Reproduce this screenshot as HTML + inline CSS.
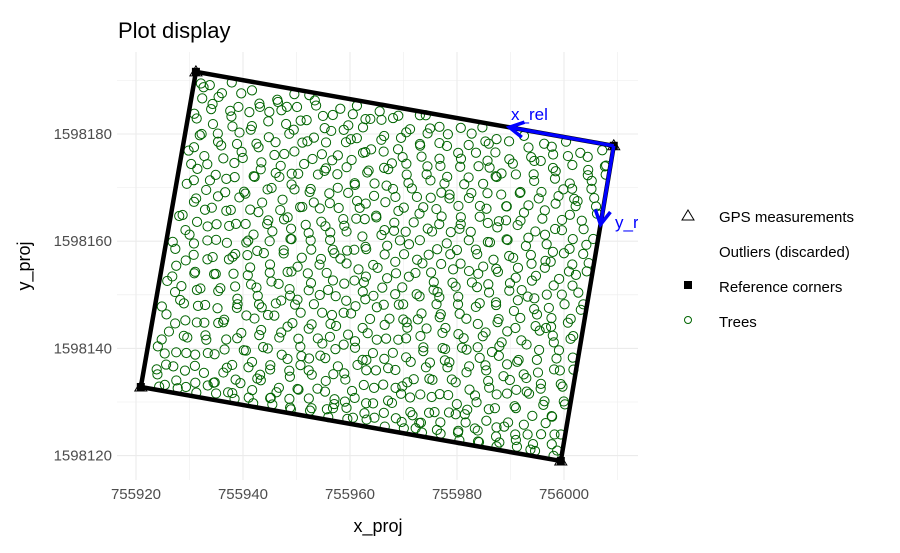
<!DOCTYPE html>
<html><head><meta charset="utf-8"><style>
html,body{margin:0;padding:0;background:#fff;}
svg{display:block;font-family:"Liberation Sans",Arial,sans-serif;}
</style></head><body>
<svg id="chart" width="900" height="553">
<defs><clipPath id="panelClip"><rect x="117" y="52" width="521" height="428"/></clipPath></defs>
<g id="grid"></g>
<g id="panel" clip-path="url(#panelClip)"></g>
<g id="axes"></g>
<text x="118" y="38" font-size="22" fill="#000">Plot display</text>
<text x="378" y="532" font-size="18" text-anchor="middle" fill="#000">x_proj</text>
<text transform="translate(30,266) rotate(-90)" font-size="18" text-anchor="middle" fill="#000">y_proj</text>
<g>
 <g>
  <polygon points="688,210 694,220 682,220" fill="none" stroke="#000" stroke-width="1"/>
  <text x="719" y="222" font-size="15">GPS measurements</text></g>
 <g>
  <text x="719" y="257" font-size="15">Outliers (discarded)</text></g>
 <g>
  <rect x="684" y="281" width="8" height="8" fill="#000"/>
  <text x="719" y="292" font-size="15">Reference corners</text></g>
 <g>
  <circle cx="688" cy="320" r="3.5" fill="none" stroke="#006400" stroke-width="1"/>
  <text x="719" y="327" font-size="15">Trees</text></g>
</g>
</svg>
<script>
// Data
const xTicks = [755920, 755940, 755960, 755980, 756000];
const yTicks = [1598120, 1598140, 1598160, 1598180];
const cornerX = [755931.2, 756009.3, 755999.4, 755920.9];
const cornerY = [1598191.6, 1598177.8, 1598119.0, 1598132.8];
// Trees in relative plot frame (metres along x_rel, y_rel from corner 2)
const treeU = [
2,6,9,13,17,22,25,29,33,37,41,44,49,52,57,61,64,69,73,77,
1,4,11,15,19,24,27,31,35,39,43,47,50,55,59,62,67,71,75,78,
3,7,10,14,20,23,28,32,36,40,45,48,53,56,60,65,68,72,76,79,
2,5,8,12,16,21,26,30,34,38,42,46,51,54,58,63,66,70,74,77,
1,6,9,14,18,22,25,29,33,37,41,45,49,53,57,61,65,69,73,78,
3,7,11,15,19,23,27,31,35,39,43,47,50,55,59,62,66,70,75,78,
2,5,10,13,17,21,26,30,34,38,42,46,51,54,58,63,67,71,74,77,
1,4,8,12,16,20,24,28,32,36,40,44,48,52,56,60,64,68,72,76,
3,6,9,14,18,22,27,31,35,39,43,47,50,54,59,62,66,70,74,78,
2,5,11,15,19,23,26,30,33,37,41,45,49,53,57,61,65,69,73,77,
1,7,10,13,17,21,25,29,34,38,42,46,51,55,58,63,67,71,75,79,
3,6,9,12,16,20,24,28,32,36,40,44,48,52,56,60,64,68,72,76,
2,5,8,14,18,22,27,31,35,39,43,47,50,54,58,62,66,70,74,78,
1,4,10,15,19,23,26,30,33,37,41,45,49,53,57,61,65,69,73,77,
3,7,11,13,17,21,25,29,34,38,42,46,51,55,59,63,67,71,75,79,
2,6,9,12,16,20,24,28,32,36,40,44,48,52,56,60,64,68,72,76,
1,5,8,14,18,22,27,31,35,39,43,47,50,54,58,62,66,70,74,78,
3,4,10,15,19,23,26,30,33,37,41,45,49,53,57,61,65,69,73,77,
2,7,11,13,17,21,25,29,34,38,42,46,51,55,59,63,67,71,75,78,
1,6,9,12,16,20,24,28,32,36,40,44,48,52,56,60,64,68,72,76,
4.5,8.2,11.5,15.8,19.6,23.3,26.8,31.2,34.7,38.4,41.9,46.1,49.5,53.2,56.6,60.1,63.8,67.2,70.9,74.5,78.1,0.8,35.9,58.2,
0.6,3.9,7.1,10.6,14.3,18.2,21.8,25.4,28.7,32.5,36.1,39.8,43.4,47.2,50.7,54.3,57.9,61.6,65.1,68.8,72.4,75.9,78.7,44.6,
2.8,6.4,9.9,13.7,17.3,20.8,24.5,27.9,31.6,35.4,38.9,42.6,46.4,49.9,53.6,57.1,60.7,64.4,67.9,71.5,75.2,78.4,13.1,62.9,
1.4,5.2,8.7,12.3,15.9,19.4,23.1,26.6,30.3,33.9,37.6,41.2,44.8,48.3,51.9,55.6,59.2,62.8,66.5,70.1,73.7,77.3,22.4,49.1,
3.6,7.3,10.8,14.6,18.1,21.7,25.3,28.9,32.4,36.2,39.7,43.3,46.9,50.5,54.1,57.8,61.3,64.9,68.6,72.2,75.8,78.9,5.7,40.7,
0.9,4.7,8.3,11.9,15.4,19.1,22.7,26.2,29.8,33.5,37.1,40.7,44.3,47.9,51.4,55.1,58.7,62.3,65.8,69.5,73.1,76.7,30.6,52.8,
2.3,5.9,9.4,13.2,16.8,20.4,23.9,27.6,31.1,34.8,38.4,41.9,45.6,49.2,52.7,56.4,59.9,63.6,67.3,70.8,74.4,78.2,17.7,61.2,
1.1,4.4,8.1,11.6,15.2,18.8,22.4,25.9,29.6,33.1,36.8,40.4,43.9,47.6,51.1,54.8,58.4,61.9,65.6,69.2,72.8,76.3,26.1,45.3,
3.3,6.8,10.4,14.1,17.6,21.2,24.8,28.4,31.9,35.6,39.2,42.8,46.3,49.8,53.4,57.2,60.8,64.2,67.8,71.4,75.1,78.6,9.1,38.2,
0.7,4.2,7.8,11.3,14.9,18.6,22.1,25.7,29.2,32.9,36.5,40.1,43.6,47.3,50.9,54.5,58.1,61.7,65.3,68.9,72.6,76.1,20.5,57.4,
2.6,6.2,9.7,13.4,16.9,20.6,24.2,27.7,31.4,34.9,38.6,42.2,45.8,49.4,52.9,56.7,60.2,63.8,67.4,71.1,74.7,78.3,12.6,48.6,
1.6,5.4,8.9,12.6,16.1,19.7,23.4,26.9,30.5,34.2,37.8,41.4,44.9,48.6,52.2,55.8,59.4,63.1,66.7,70.3,73.9,77.6,28.2,64.7,
3.8,7.5,11.1,14.7,18.4,21.9,25.6,29.1,32.7,36.3,39.9,43.6,47.1,50.8,54.3,57.9,61.5,65.2,68.7,72.4,76.0,78.8,6.9,42.1,
0.5,4.1,7.6,11.2,14.8,18.3,21.9,25.5,29.1,32.6,36.3,39.9,43.5,47.1,50.6,54.2,57.8,61.4,65.0,68.6,72.3,75.8,33.7,55.5,
2.4,6.1,9.6,13.3,16.7,20.3,23.8,27.4,31.0,34.6,38.3,41.8,45.4,49.0,52.6,56.2,59.8,63.4,67.1,70.6,74.2,77.9,16.2,60.4,
1.3,4.9,8.5,12.1,15.6,19.2,22.8,26.4,29.9,33.6,37.2,40.8,44.4,48.0,51.5,55.2,58.9,62.4,66.0,69.7,73.3,76.9,24.7,46.8,
3.1,6.7,10.3,13.9,17.5,21.1,24.6,28.2,31.8,35.4,39.0,42.6,46.2,49.7,53.3,56.9,60.5,64.1,67.7,71.3,74.9,78.5,10.5,39.3,
0.8,4.5,8.0,11.6,15.1,18.9,22.3,26.0,29.5,33.2,36.7,40.3,44.0,47.5,51.2,54.7,58.3,62.0,65.5,69.1,72.7,76.4,31.8,51.4,
2.2,5.7,9.3,12.8,16.4,20.0,23.6,27.2,30.8,34.4,38.0,41.5,45.1,48.8,52.4,55.9,59.6,63.2,66.8,70.4,74.0,77.7,19.3,58.6,
1.5,5.1,8.6,12.4,15.8,19.5,23.2,26.7,30.2,33.8,37.4,41.0,44.6,48.2,51.8,55.4,59.0,62.6,66.2,69.9,73.5,77.0,27.5,43.9
];
const treeV = [
1.2,2.4,0.8,1.9,1.1,2.6,0.9,1.7,2.2,0.7,1.5,2.8,1.0,2.1,1.4,0.9,2.5,1.6,0.8,2.0,
4.1,5.3,3.6,4.8,5.9,3.4,4.6,5.5,3.8,4.3,5.7,3.2,4.9,4.0,5.6,3.5,4.4,5.1,3.9,4.7,
7.2,8.4,6.6,7.9,8.8,6.9,7.4,8.1,6.3,7.7,8.6,7.0,6.5,8.3,7.5,6.8,8.9,7.1,6.4,7.8,
10.3,11.4,9.7,10.9,11.8,9.5,10.6,11.2,9.9,10.1,11.6,9.3,10.8,11.1,9.6,10.4,11.9,9.8,10.7,11.3,
13.1,14.2,12.6,13.8,14.7,12.9,13.4,14.4,12.4,13.6,14.8,13.0,12.7,14.1,13.5,12.3,14.6,13.3,12.8,14.0,
16.4,17.3,15.8,16.9,17.7,15.5,16.2,17.5,15.9,16.6,17.1,15.4,16.8,17.9,15.7,16.1,17.4,15.6,16.7,17.2,
19.2,20.5,18.7,19.8,20.8,18.4,19.5,20.2,18.9,19.1,20.7,18.6,19.9,20.3,18.5,19.4,20.9,18.8,19.6,20.1,
22.5,23.3,21.6,22.9,23.8,21.9,22.2,23.5,21.4,22.7,23.1,21.7,22.4,23.6,21.5,22.8,23.9,21.8,22.3,23.4,
25.1,26.4,24.8,25.7,26.6,24.5,25.4,26.2,24.9,25.9,26.8,24.6,25.3,26.1,24.4,25.8,26.5,24.7,25.2,26.9,
28.3,29.2,27.6,28.8,29.7,27.9,28.1,29.4,27.5,28.6,29.9,27.7,28.4,29.1,27.8,28.9,29.5,27.4,28.2,29.6,
31.4,32.1,30.8,31.7,32.8,30.6,31.2,32.5,30.9,31.9,32.3,30.5,31.6,32.7,30.7,31.1,32.4,30.4,31.8,32.2,
34.2,35.5,33.7,34.9,35.8,33.5,34.4,35.1,33.9,34.6,35.6,33.4,34.1,35.3,33.8,34.7,35.9,33.6,34.3,35.2,
37.1,38.3,36.6,37.8,38.7,36.8,37.4,38.5,36.4,37.6,38.1,36.9,37.2,38.8,36.5,37.9,38.4,36.7,37.3,38.6,
40.5,41.2,39.6,40.8,41.7,39.9,40.2,41.5,39.4,40.6,41.9,39.7,40.4,41.1,39.5,40.9,41.6,39.8,40.3,41.4,
43.3,44.4,42.7,43.9,44.8,42.5,43.1,44.2,42.9,43.6,44.6,42.4,43.8,44.1,42.6,43.4,44.9,42.8,43.2,44.5,
46.2,47.3,45.8,46.7,47.6,45.5,46.4,47.1,45.9,46.9,47.8,45.6,46.1,47.4,45.4,46.6,47.9,45.7,46.3,47.2,
49.4,50.2,48.6,49.8,50.7,48.9,49.1,50.5,48.5,49.6,50.9,48.7,49.3,50.1,48.8,49.9,50.4,48.4,49.2,50.6,
52.1,53.5,51.7,52.8,53.6,51.5,52.4,53.2,51.9,52.6,53.9,51.4,52.2,53.3,51.8,52.9,53.7,51.6,52.3,53.1,
55.3,56.2,54.6,55.9,56.8,54.8,55.1,56.4,54.5,55.7,56.1,54.9,55.4,56.6,54.7,55.6,56.9,54.4,55.2,56.3,
58.2,58.9,57.6,58.6,59.1,57.8,58.3,58.7,57.5,58.1,58.8,57.7,58.4,59.0,57.9,58.5,58.2,57.6,58.6,58.9,
2.9,3.4,2.2,3.1,2.6,3.7,2.4,3.3,2.8,3.6,2.1,3.0,2.7,3.5,2.3,3.2,2.9,3.8,2.5,3.1,2.6,3.9,0.5,0.6,
5.6,6.3,4.9,6.1,5.4,6.6,5.1,5.8,6.4,5.2,6.0,5.5,6.5,4.8,5.9,6.2,5.3,6.7,5.0,5.7,6.1,5.4,2.0,1.3,
8.7,9.3,8.0,9.1,8.5,9.6,8.2,8.9,9.4,8.3,9.0,8.6,9.5,8.1,8.8,9.2,8.4,9.7,8.2,8.9,9.1,8.6,5.2,4.3,
11.8,12.4,11.1,12.2,11.6,12.7,11.3,12.0,12.5,11.4,12.1,11.7,12.6,11.2,11.9,12.3,11.5,12.8,11.3,12.0,12.2,11.6,8.1,7.4,
14.9,15.4,14.2,15.3,14.7,15.8,14.4,15.1,15.6,14.5,15.2,14.8,15.7,14.3,15.0,15.5,14.6,15.9,14.4,15.1,15.3,14.8,11.1,10.5,
17.9,18.6,17.3,18.4,17.8,18.9,17.5,18.2,18.7,17.6,18.3,17.9,18.8,17.4,18.1,18.5,17.7,19.0,17.5,18.2,18.4,17.9,14.3,13.6,
21.0,21.5,20.4,21.4,20.9,21.9,20.6,21.3,21.8,20.7,21.4,21.0,21.9,20.5,21.2,21.6,20.8,22.0,20.6,21.3,21.5,21.0,17.3,16.7,
24.1,24.7,23.5,24.5,24.0,25.0,23.7,24.4,24.9,23.8,24.5,24.1,25.0,23.6,24.3,24.7,23.9,25.1,23.7,24.4,24.6,24.1,20.4,19.8,
27.2,27.8,26.6,27.6,27.1,28.1,26.8,27.5,28.0,26.9,27.6,27.2,28.1,26.7,27.4,27.8,27.0,28.2,26.8,27.5,27.7,27.2,23.5,22.9,
30.3,30.9,29.7,30.7,30.2,31.2,29.9,30.6,31.1,30.0,30.7,30.3,31.2,29.8,30.5,30.9,30.1,31.3,29.9,30.6,30.8,30.3,26.6,25.9,
33.4,33.9,32.8,33.8,33.3,34.3,33.0,33.7,34.2,33.1,33.8,33.4,34.3,32.9,33.6,34.0,33.2,34.4,33.0,33.7,33.9,33.4,29.7,29.0,
36.5,37.1,35.9,36.9,36.4,37.4,36.1,36.8,37.3,36.2,36.9,36.5,37.4,36.0,36.7,37.1,36.3,37.5,36.1,36.8,37.0,36.5,32.8,32.2,
39.6,40.2,39.0,40.0,39.5,40.5,39.2,39.9,40.4,39.3,40.0,39.6,40.5,39.1,39.8,40.2,39.4,40.6,39.2,39.9,40.1,39.6,35.9,35.2,
42.7,43.3,42.1,43.1,42.6,43.6,42.3,43.0,43.5,42.4,43.1,42.7,43.6,42.2,42.9,43.3,42.5,43.7,42.3,43.0,43.2,42.7,39.0,38.3,
45.8,46.4,45.2,46.2,45.7,46.7,45.4,46.1,46.6,45.5,46.2,45.8,46.7,45.3,46.0,46.4,45.6,46.8,45.4,46.1,46.3,45.8,42.1,41.4,
48.9,49.5,48.3,49.3,48.8,49.8,48.5,49.2,49.7,48.6,49.3,48.9,49.8,48.4,49.1,49.5,48.7,49.9,48.5,49.2,49.4,48.9,45.2,44.6,
52.0,52.6,51.4,52.4,51.9,52.9,51.6,52.3,52.8,51.7,52.4,52.0,52.9,51.5,52.2,52.6,51.8,53.0,51.6,52.3,52.5,52.0,48.3,47.7,
55.1,55.7,54.5,55.5,55.0,56.0,54.7,55.4,55.9,54.8,55.5,55.1,56.0,54.6,55.3,55.7,54.9,56.1,54.7,55.4,55.6,55.1,51.4,50.8,
57.2,57.8,56.6,57.6,57.1,58.1,56.8,57.5,58.0,56.9,57.6,57.2,58.1,56.7,57.4,57.8,57.0,58.2,56.8,57.5,57.7,57.2,54.5,53.9,
59.3,59.0,58.8,59.4,59.2,59.5,58.9,59.3,59.1,59.4,58.7,59.2,59.5,58.9,59.3,59.0,59.4,59.2,58.8,59.3,59.1,59.4,57.6,56.9
];

const NS = "http://www.w3.org/2000/svg";
const PX0 = 136, PXS = 5.35, PY0 = 134, PYS = 5.36;
function xScale(v){ return PX0 + (v - 755920) * PXS; }
function yScale(v){ return PY0 - (v - 1598180) * PYS; }
function mk(tag, attrs, parent){ const e = document.createElementNS(NS, tag); for (const k in attrs) e.setAttribute(k, attrs[k]); parent.appendChild(e); return e; }

const grid = document.getElementById('grid');
const panel = document.getElementById('panel');
const axes = document.getElementById('axes');
const L = 117, R = 638, T = 52, B = 480;

for (let v = 755910; v <= 756010; v += 10) {
  const x = xScale(v); if (x < L || x > R) continue;
  const major = v % 20 === 0;
  const ln = mk('line', {x1:x, x2:x, y1:T, y2:B, stroke: '#ebebeb', 'stroke-width': major ? 1.1 : 0.55}, grid);
  
  
}
for (let v = 1598110; v <= 1598200; v += 10) {
  const y = yScale(v); if (y < T || y > B) continue;
  const major = v % 20 === 0;
  const ln = mk('line', {x1:L, x2:R, y1:y, y2:y, stroke: '#ebebeb', 'stroke-width': major ? 1.1 : 0.55}, grid);
  
  
}
xTicks.forEach(v => {
  const t = mk('text', {x: xScale(v), y: 499, 'font-size': 15, fill: '#4d4d4d', 'text-anchor': 'middle'}, axes);
  t.textContent = v;
  
  
});
yTicks.forEach(v => {
  const t = mk('text', {x: 112, y: yScale(v) + 5, 'font-size': 15, fill: '#4d4d4d', 'text-anchor': 'end'}, axes);
  t.textContent = v;
  
  
});

const bx = cornerX[1], by = cornerY[1];
let ax = cornerX[0]-bx, ay = cornerY[0]-by; const al = Math.hypot(ax, ay); ax/=al; ay/=al;
let cx = cornerX[2]-bx, cy = cornerY[2]-by; const cl = Math.hypot(cx, cy); cx/=cl; cy/=cl;
const uS = al/80, vS = cl/60;

const tg = mk('g', {}, panel);


const n = Math.min(treeU.length, treeV.length);
for (let i = 0; i < n; i++) {
  const u = treeU[i]*uS, v = treeV[i]*vS;
  const X = bx + u*ax + v*cx, Y = by + u*ay + v*cy;
  const c = mk('circle', {cx: xScale(X), cy: yScale(Y), r: 4.6, fill: 'none', stroke: '#006400', 'stroke-width': 1}, tg);
  
  
}

const pts = cornerX.map((x, i) => xScale(x) + ',' + yScale(cornerY[i])).join(' ');
const poly = mk('polygon', {points: pts, fill: 'none', stroke: '#000', 'stroke-width': 4.5, 'stroke-linejoin': 'round'}, panel);


cornerX.forEach((x, i) => {
  const px = xScale(x), py = yScale(cornerY[i]);
  const s = mk('rect', {x: px-4, y: py-4, width: 8, height: 8, fill: '#000'}, panel);
  
  
  const tr = mk('polygon', {points: `${px},${py-6} ${px+6},${py+4} ${px-6},${py+4}`, fill: 'none', stroke: '#000', 'stroke-width': 1}, panel);
  
  
});

function arrow(x1, y1, x2, y2, name){
  const g = mk('g', {stroke: '#0000ff', 'stroke-width': 3.5, fill: 'none', 'stroke-linecap': 'butt'}, panel);
  
  
  mk('line', {x1, y1, x2, y2}, g);
  const ang = Math.atan2(y1-y2, x1-x2), h = 16, sp = 0.5;
  mk('polyline', {points: `${x2+h*Math.cos(ang+sp)},${y2+h*Math.sin(ang+sp)} ${x2},${y2} ${x2+h*Math.cos(ang-sp)},${y2+h*Math.sin(ang-sp)}`}, g);
}
const ox = xScale(bx), oy = yScale(by);
arrow(ox, oy, ox + 20*uS*ax*PXS, oy - 20*uS*ay*PYS, 'x-rel-arrow');
arrow(ox, oy, ox + 15*vS*cx*PXS, oy - 15*vS*cy*PYS, 'y-rel-arrow');
const t1 = mk('text', {x: 511, y: 120, 'font-size': 17, fill: '#0000ff'}, panel);
t1.textContent = 'x_rel';


const t2 = mk('text', {x: 615, y: 228, 'font-size': 17, fill: '#0000ff'}, panel);
t2.textContent = 'y_rel';


</script>
</body></html>
